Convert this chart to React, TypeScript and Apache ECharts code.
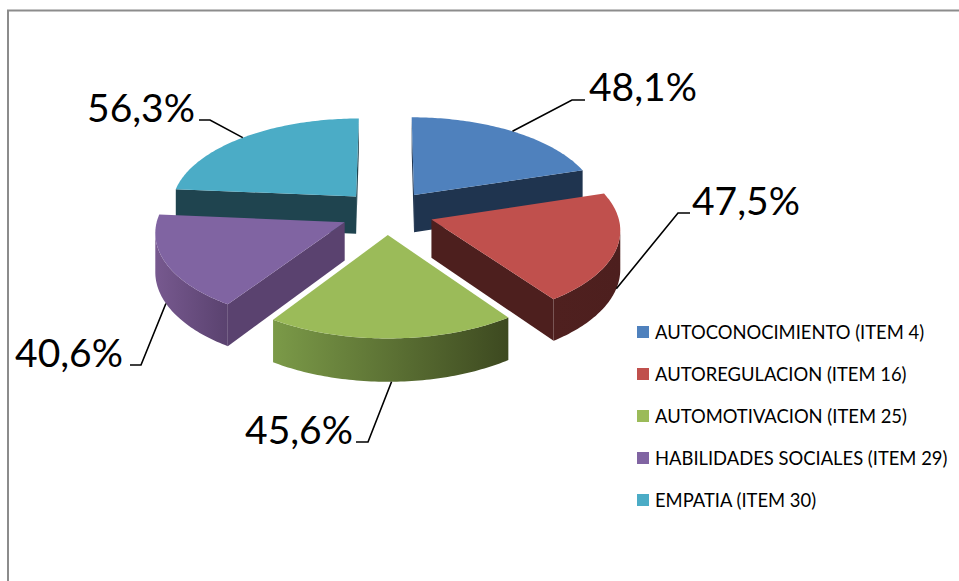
import React, { useEffect, useRef } from "react";
import * as echarts from "echarts";

const categories = [
  "AUTOCONOCIMIENTO (ITEM 4)",
  "AUTOREGULACION (ITEM 16)",
  "AUTOMOTIVACION (ITEM 25)",
  "HABILIDADES SOCIALES (ITEM 29)",
  "EMPATIA (ITEM 30)",
];
const values = [48.1, 47.5, 45.6, 40.6, 56.3];
const topColors = ["#4f81bd", "#c0504d", "#9bbb59", "#8064a2", "#4bacc6"];
const cutColors = ["#1f344f", "#4d1f1e", "#3e4a23", "#5a426f", "#1f444f"];
const outerLeft = ["#1f344f", "#4f201f", "#7b9a48", "#77598f", "#1f444f"];
const outerRight = ["#1f344f", "#4d1f1e", "#3d4920", "#5a426f", "#1f444f"];
const paintOrder = [1, 1, 3, 2, 1];
// leader elbow, leader end, label anchor x, label anchor y, label alignment
const labelLayout: [number, number, number, number, number, number, string][] = [
  [572, 100, 585, 100, 589, 86, "left"],
  [678, 213, 690, 213, 692, 200, "left"],
  [368, 442, 356, 442, 353, 429, "right"],
  [141, 365, 130, 365, 123, 352, "right"],
  [210, 120, 199, 120, 195, 107, "right"],
];

const CX = 387;
const CY = 212.4;
const RX = 186;
const RY = 88.5;
const K = 0.098;
const EXPLODE = 0.25;
const DEPTH = 38;
const rad = (d: number) => (d * Math.PI) / 180;

const total = values.reduce((a, b) => a + b, 0);
const starts: number[] = [];
values.reduce((acc, v) => {
  starts.push(acc);
  return acc + (v / total) * 360;
}, 0);

function project(x: number, c: number, drop = 0): [number, number] {
  const w = 1 + K * c;
  return [CX + (RX * x) / w, CY - (RY * c) / w + (drop * DEPTH) / w];
}

function renderSlice(i: number) {
  return (_params: any, api: any) => {
    const value = api.value(0) as number;
    const a0 = starts[i];
    const a1 = a0 + (value / total) * 360;
    const mid = (a0 + a1) / 2;
    const ex = EXPLODE * Math.sin(rad(mid));
    const ec = EXPLODE * Math.cos(rad(mid));
    const pt = (deg: number, r: number, drop = 0) =>
      project(ex + r * Math.sin(rad(deg)), ec + r * Math.cos(rad(deg)), drop);

    const arc: number[] = [];
    for (let a = a0; a < a1; a += 1) arc.push(a);
    arc.push(a1);

    const tip = pt(mid, 0);
    const tipLow = pt(mid, 0, 1);
    const children: any[] = [];
    const centre = pt(mid, 0.5);

    [a0, a1].forEach((edge) => {
      const b = pt(edge, 1);
      const ex0 = b[0] - tip[0];
      const ey0 = b[1] - tip[1];
      const crossDown = ex0;
      const crossMid = ex0 * (centre[1] - tip[1]) - ey0 * (centre[0] - tip[0]);
      if (crossDown * crossMid < 0) {
        children.push({
          type: "polygon",
          shape: { points: [tip, b, pt(edge, 1, 1), tipLow] },
          style: { fill: cutColors[i] },
        });
      }
    });

    const front = arc.filter((a, n) => {
      const next = arc[n + 1] ?? a;
      const prev = arc[n - 1] ?? a;
      return pt(next, 1)[0] < pt(a, 1)[0] || pt(a, 1)[0] < pt(prev, 1)[0];
    });
    if (front.length > 1) {
      children.push({
        type: "polygon",
        shape: {
          points: [
            ...front.map((a) => pt(a, 1)),
            ...front.slice().reverse().map((a) => pt(a, 1, 1)),
          ],
        },
        style: {
          fill: new echarts.graphic.LinearGradient(0, 0, 1, 0, [
            { offset: 0, color: outerLeft[i] },
            { offset: 1, color: outerRight[i] },
          ]),
        },
      });
    }

    children.push({
      type: "polygon",
      shape: { points: [tip, ...arc.map((a) => pt(a, 1))] },
      style: { fill: topColors[i] },
    });

    const [ex1, ey1, ex2, ey2, lx, ly, align] = labelLayout[i];
    const anchor = pt(mid, 1, Math.cos(rad(mid)) < 0 ? 1 : 0);
    children.push({
      type: "polyline",
      shape: { points: [anchor, [ex1, ey1], [ex2, ey2]] },
      style: { stroke: "#000", lineWidth: 1.6, fill: "none" },
    });
    children.push({
      type: "text",
      x: lx,
      y: ly,
      style: {
        text: value.toFixed(1).replace(".", ",") + "%",
        fill: "#000",
        font: '39px Lato, "Open Sans", sans-serif',
        textAlign: align,
        textVerticalAlign: "middle",
      },
    });
    return { type: "group", children };
  };
}

export default function App() {
  const ref = useRef<HTMLDivElement>(null);
  useEffect(() => {
    document.body.style.margin = "0";
    const chart = echarts.init(ref.current!, undefined, { renderer: "svg" });
    chart.setOption({
      animation: false,
      backgroundColor: "#fff",
      graphic: [
        {
          type: "rect",
          shape: { x: 8, y: 10.5, width: 1200, height: 800 },
          style: { fill: "none", stroke: "#8c8c8c", lineWidth: 2 },
          silent: true,
          z: 0,
        },
      ],
      legend: {
        orient: "vertical",
        left: 632,
        top: 318,
        icon: "rect",
        itemWidth: 12,
        itemHeight: 12,
        itemGap: 24,
        data: categories,
        selectedMode: false,
        textStyle: {
          color: "#000",
          fontFamily: "Lato, sans-serif",
          fontSize: 18.4,
          padding: [0, 0, 0, 1],
        },
      },
      series: categories.map((name, i) => ({
        type: "custom",
        name,
        coordinateSystem: "none",
        silent: true,
        z: paintOrder[i] + 2,
        color: topColors[i],
        itemStyle: { color: topColors[i] },
        data: [[values[i]]],
        renderItem: renderSlice(i),
      })),
    });
    return () => chart.dispose();
  }, []);
  return <div ref={ref} style={{ width: 959, height: 581 }} />;
}
